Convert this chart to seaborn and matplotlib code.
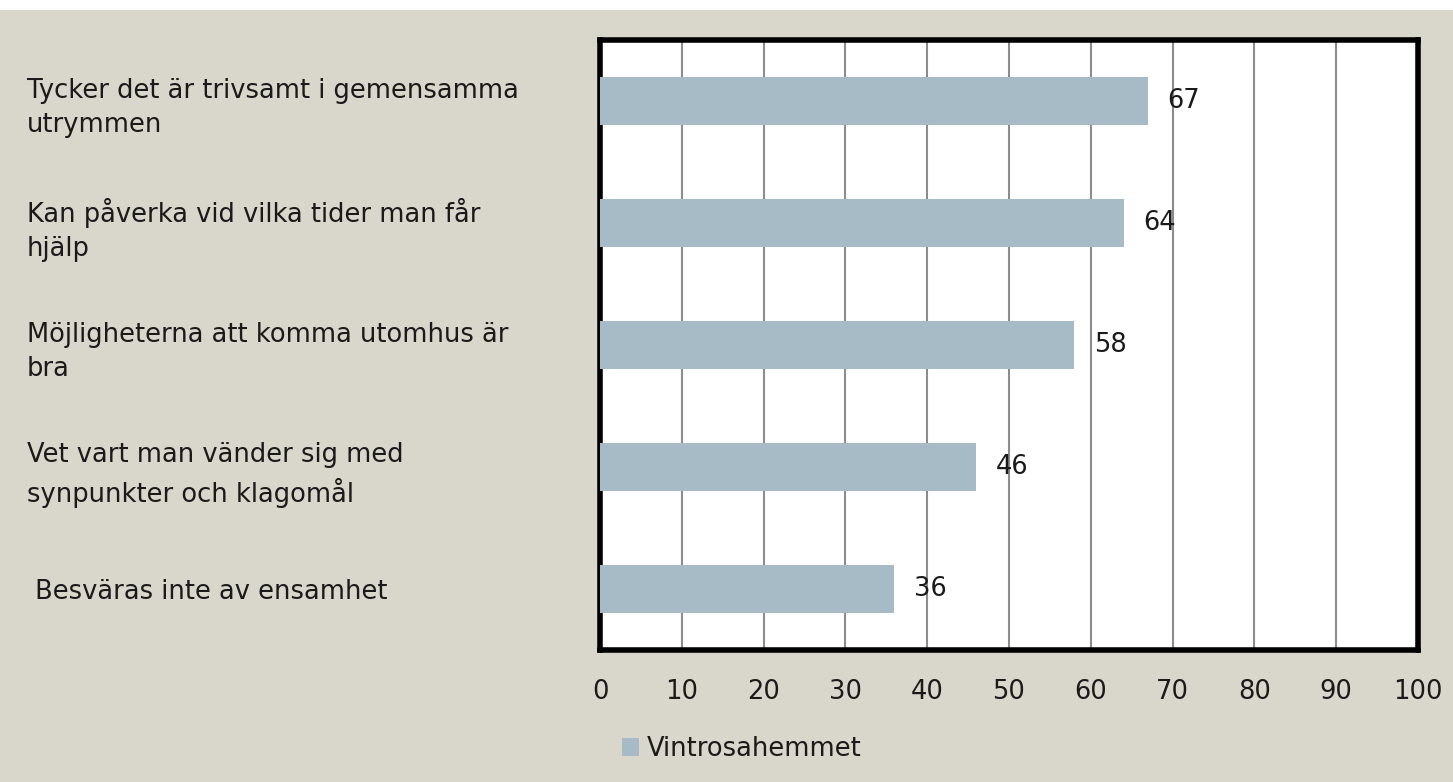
import matplotlib.pyplot as plt
import seaborn as sns
import pandas as pd

categories = [
    "Tycker det är trivsamt i gemensamma\nutrymmen",
    "Kan påverka vid vilka tider man får\nhjälp",
    "Möjligheterna att komma utomhus är\nbra",
    "Vet vart man vänder sig med\nsynpunkter och klagomål",
    " Besväras inte av ensamhet",
]
values = [67, 64, 58, 46, 36]
series_name = "Vintrosahemmet"
x_ticks = [0, 10, 20, 30, 40, 50, 60, 70, 80, 90, 100]

BG = "#d9d7cb"
BAR = "#a7bbc6"
TXT = "#1a1a1a"
FS = 18.5

if __name__ == "__main__":
    sns.set_style("white")
    plt.rcParams["font.family"] = ["DejaVu Sans"]

    df = pd.DataFrame({"cat": categories, "val": values, "serie": series_name})

    fig = plt.figure(figsize=(14.53, 7.82), dpi=100)
    fig.patch.set_facecolor("white")
    # background panel, with a thin white strip on top
    fig.patches.append(plt.Rectangle((0, 0), 1, 1 - 10 / 782, transform=fig.transFigure,
                                     facecolor=BG, edgecolor="none", zorder=-10))
    ax = fig.add_axes([600 / 1453, 1 - 650 / 782, 818 / 1453, 610 / 782])

    sns.barplot(data=df, x="val", y="cat", hue="serie", palette=[BAR],
                saturation=1, width=0.4, linewidth=0, ax=ax, zorder=3)

    ax.set_xlim(0, 100)
    ax.set_xticks(x_ticks)
    ax.xaxis.grid(True, color="#8c8c8c", linewidth=1.5, zorder=0)
    ax.set_axisbelow(True)
    for s in ax.spines.values():
        s.set_linewidth(4)
        s.set_color("black")
    ax.set_xlabel("")
    ax.set_ylabel("")
    ax.tick_params(axis="x", length=0, pad=21, labelsize=FS, colors=TXT)
    ax.tick_params(axis="y", length=0, pad=573 * 72 / 100, labelsize=FS, colors=TXT)
    for lab in ax.get_yticklabels():
        lab.set_horizontalalignment("left")
        lab.set_linespacing(1.4)

    ax.bar_label(ax.containers[0], padding=14, fontsize=FS, color=TXT)

    ax.get_legend().remove()
    handles, labels = ax.get_legend_handles_labels()
    fig.legend(handles, labels, loc="center", bbox_to_anchor=(742 / 1453, 1 - 749 / 782),
               frameon=False, fontsize=FS, handlelength=0.65, handleheight=0.65,
               handletextpad=0.3, labelcolor=TXT)

    fig.savefig("out.png", dpi=100, facecolor=fig.get_facecolor())
